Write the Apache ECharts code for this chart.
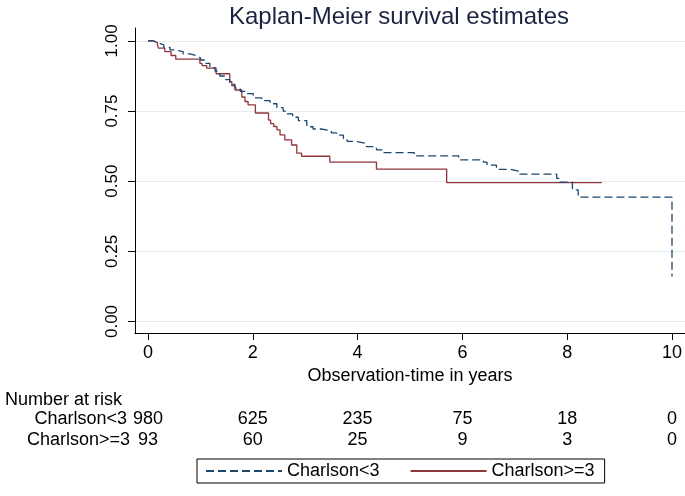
<!DOCTYPE html>
<html>
<head>
<meta charset="utf-8">
<script src="https://cdn.jsdelivr.net/npm/echarts@6/dist/echarts.min.js"></script>
<style>
html,body{margin:0;padding:0;background:#fff;}
#chart{width:685px;height:496px;}
</style>
</head>
<body>
<div id="chart"></div>
<script>
// Charlson<3 (dashed navy)
const timeLow = [0, 0.10, 0.20, 0.30, 0.42, 0.52, 0.67, 0.80, 0.93, 1.00, 1.09, 1.18, 1.28, 1.37, 1.47, 1.56, 1.66, 1.76, 1.85, 2.01, 2.17, 2.33, 2.46, 2.58, 2.65, 2.76, 2.87, 3.03, 3.15, 3.30, 3.50, 3.60, 3.73, 3.80, 3.95, 4.17, 4.36, 4.49, 5.08, 5.93, 6.40, 6.47, 6.65, 6.92, 7.07, 7.80, 7.86, 8.10, 8.21, 10.00];
const survLow = [1.0, 0.993, 0.986, 0.977, 0.968, 0.962, 0.954, 0.947, 0.940, 0.932, 0.920, 0.905, 0.892, 0.875, 0.862, 0.845, 0.832, 0.820, 0.812, 0.797, 0.787, 0.776, 0.762, 0.750, 0.740, 0.728, 0.716, 0.694, 0.686, 0.680, 0.672, 0.664, 0.652, 0.642, 0.635, 0.623, 0.612, 0.602, 0.590, 0.576, 0.568, 0.557, 0.542, 0.536, 0.525, 0.510, 0.497, 0.469, 0.443, 0.16];
// Charlson>=3 (solid maroon)
const timeHigh = [0, 0.10, 0.18, 0.20, 0.32, 0.44, 0.53, 0.99, 1.03, 1.12, 1.30, 1.56, 1.60, 1.66, 1.79, 1.85, 1.91, 2.05, 2.30, 2.34, 2.40, 2.46, 2.52, 2.61, 2.74, 2.84, 2.93, 3.47, 4.36, 5.70, 8.66];
const survHigh = [1.0, 0.994, 0.986, 0.974, 0.962, 0.948, 0.935, 0.920, 0.912, 0.903, 0.883, 0.855, 0.840, 0.825, 0.800, 0.784, 0.772, 0.743, 0.718, 0.705, 0.695, 0.683, 0.665, 0.647, 0.629, 0.600, 0.589, 0.568, 0.543, 0.495, 0.495];

const seriesNames = ['Charlson<3', 'Charlson>=3'];
const xTicks = [0, 2, 4, 6, 8, 10];
const yTicks = [0, 0.25, 0.5, 0.75, 1];
const riskLow = [980, 625, 235, 75, 18, 0];
const riskHigh = [93, 60, 25, 9, 3, 0];

const FONT = "'Liberation Sans', Arial, sans-serif";
const X_MIN = -0.248, X_MAX = 10.248;

function zip(a, b) { return a.map((v, i) => [v, b[i]]); }

function riskAxis(name, values, offset) {
  return {
    type: 'value', gridIndex: 0, position: 'bottom', offset: offset,
    min: X_MIN, max: X_MAX,
    name: name, nameLocation: 'start', nameGap: 5,
    nameTextStyle: { fontFamily: FONT, fontSize: 18, color: '#000' },
    axisLine: { show: false, onZero: false }, axisTick: { show: false }, splitLine: { show: false },
    axisLabel: {
      customValues: xTicks, margin: 0, verticalAlign: 'middle',
      fontFamily: FONT, fontSize: 18, color: '#000',
      formatter: function (v) { const i = xTicks.indexOf(v); return i >= 0 ? String(values[i]) : ''; }
    }
  };
}

const chart = echarts.init(document.getElementById('chart'), null, { renderer: 'canvas' });
chart.setOption({
  backgroundColor: '#fff',
  animation: false,
  title: [
    { text: 'Kaplan-Meier survival estimates', left: 394, top: 0, textAlign: 'center',
      textStyle: { fontFamily: FONT, fontSize: 24, fontWeight: 'normal', color: '#1c2340' } },
    { text: 'Number at risk', left: 0, top: 386,
      textStyle: { fontFamily: FONT, fontSize: 18, fontWeight: 'normal', color: '#000' } }
  ],
  grid: { left: 135, right: 0, top: 28, bottom: 163, containLabel: false },
  legend: {
    data: seriesNames, left: 197, bottom: 13, selectedMode: false,
    borderColor: '#000', borderWidth: 1, padding: [3, 10, 3, 8],
    itemWidth: 76, itemHeight: 14, itemGap: 30,
    itemStyle: { opacity: 0, borderWidth: 0 },
    textStyle: { fontFamily: FONT, fontSize: 18, color: '#000' }
  },
  xAxis: [
    {
      type: 'value', gridIndex: 0, min: X_MIN, max: X_MAX,
      name: 'Observation-time in years', nameLocation: 'middle', nameGap: 33,
      nameTextStyle: { fontFamily: FONT, fontSize: 18, color: '#000' },
      axisLine: { show: true, onZero: false, lineStyle: { color: '#000', width: 1 } },
      axisTick: { show: true, customValues: xTicks, length: 7, lineStyle: { color: '#000' } },
      axisLabel: { customValues: xTicks, margin: 11, fontFamily: FONT, fontSize: 18, color: '#000' },
      splitLine: { show: false }
    },
    riskAxis(seriesNames[0], riskLow, 86),
    riskAxis(seriesNames[1], riskHigh, 107)
  ],
  yAxis: {
    type: 'value', min: -0.041, max: 1.046,
    axisLine: { show: true, onZero: false, lineStyle: { color: '#000', width: 1 } },
    axisTick: { show: true, customValues: yTicks, length: 7, lineStyle: { color: '#000' } },
    axisLabel: { customValues: yTicks, rotate: 90, margin: 14, fontFamily: FONT, fontSize: 17, color: '#000',
      formatter: function (v) { return v.toFixed(2); } },
    splitLine: { show: true, lineStyle: { color: '#e6ecee', width: 1 } }
  },
  series: [
    { name: seriesNames[0], type: 'line', step: 'end', symbol: 'none', data: zip(timeLow, survLow),
      lineStyle: { color: '#1a476f', width: 1.3, type: [8, 4] }, itemStyle: { color: '#1a476f' }, z: 3 },
    { name: seriesNames[1], type: 'line', step: 'end', symbol: 'none', data: zip(timeHigh, survHigh),
      lineStyle: { color: '#90353b', width: 1.3, type: 'solid' }, itemStyle: { color: '#90353b' }, z: 2 }
  ]
});
</script>
</body>
</html>
